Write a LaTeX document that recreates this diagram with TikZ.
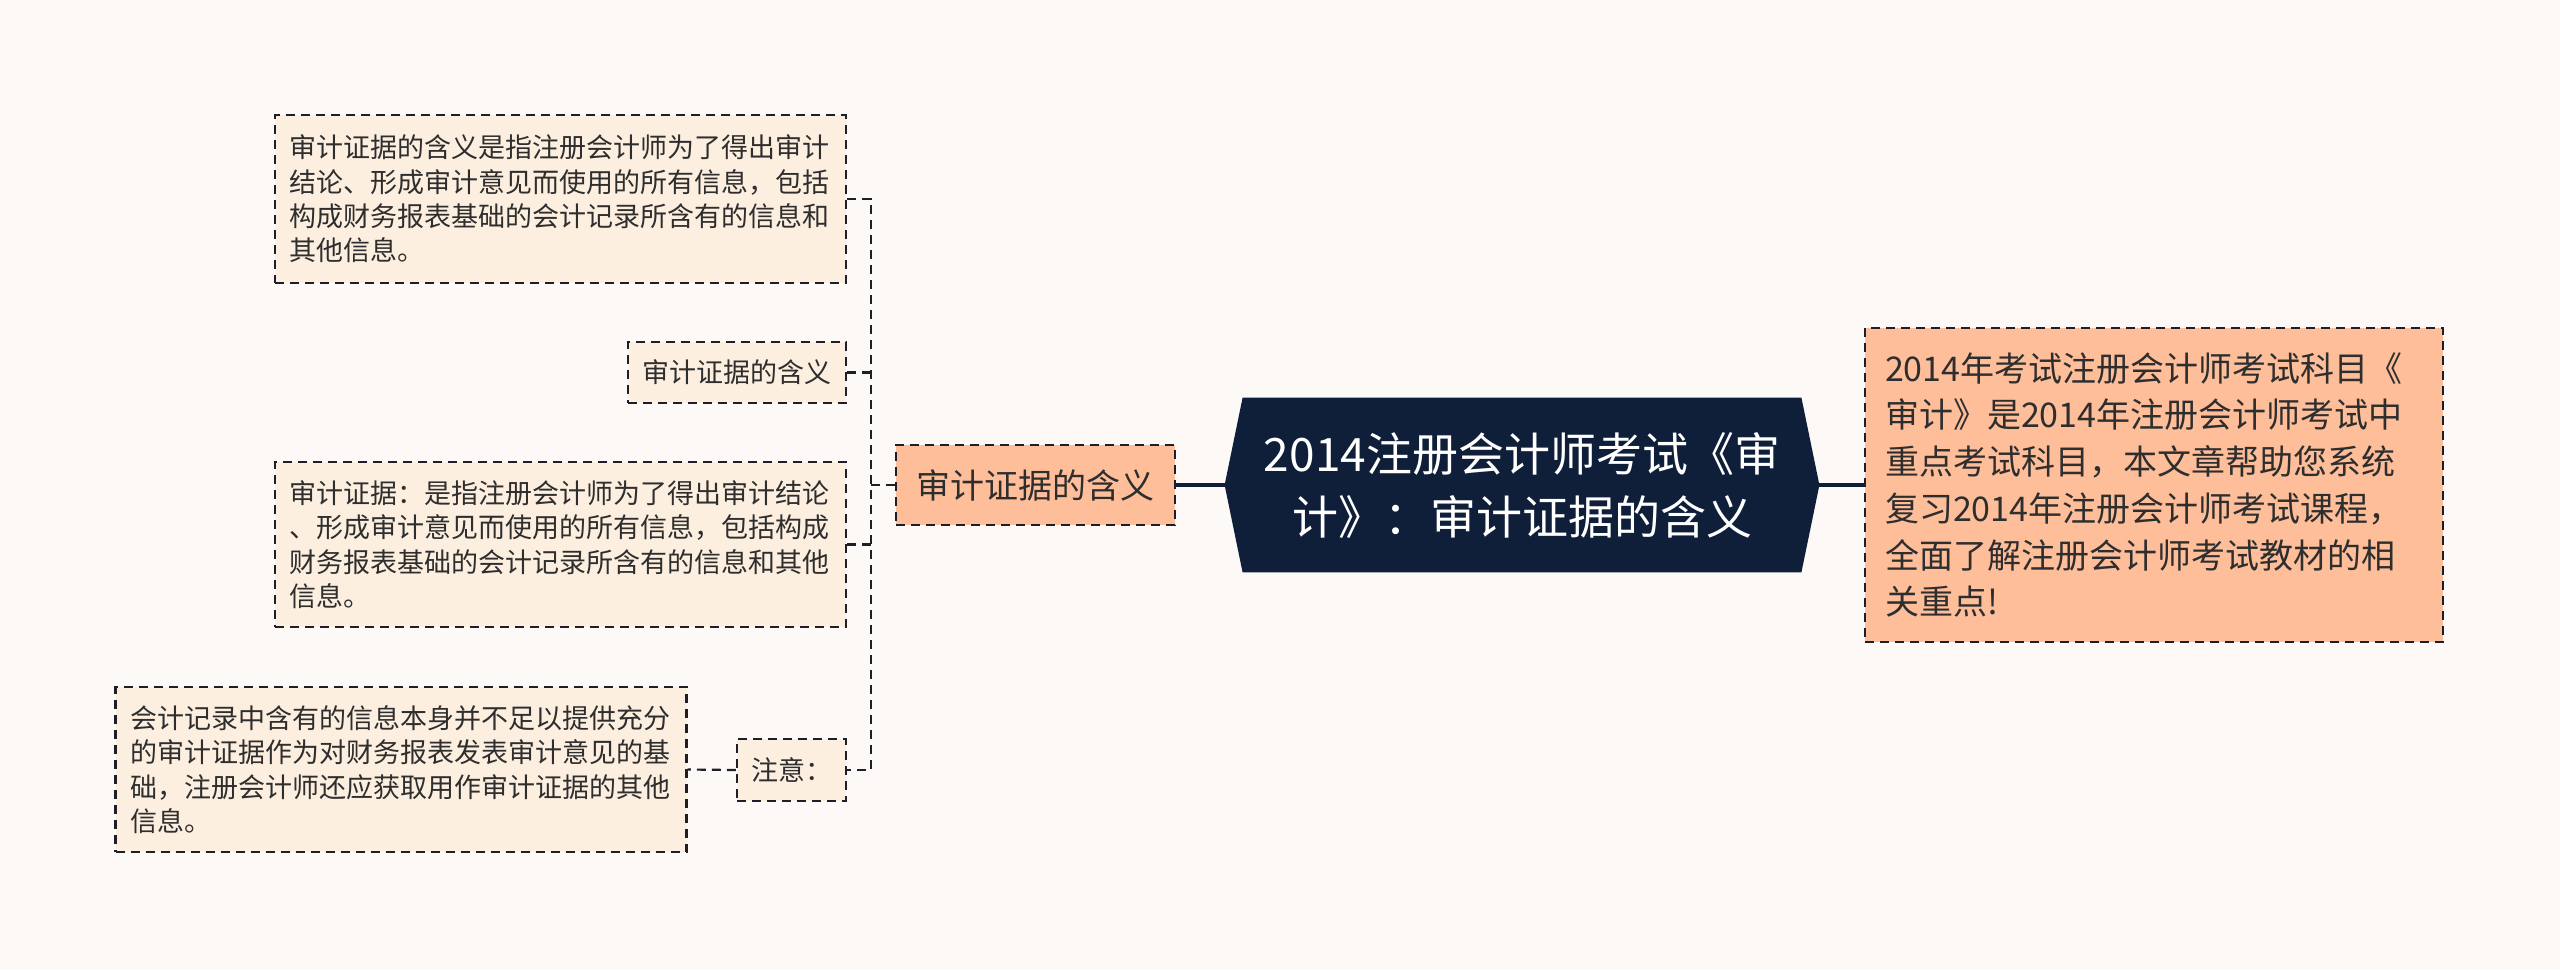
\documentclass[tikz,border=0pt]{standalone}
\usepackage{fontspec}
\setmainfont{Noto Sans CJK SC}
\usetikzlibrary{calc}
\pgfdeclarelayer{bg}
\pgfsetlayers{bg,main}
\definecolor{bgcol}{HTML}{FCF9F7}
\definecolor{leaf}{HTML}{FDEFE0}
\definecolor{salmon}{HTML}{FFBE9A}
\definecolor{navy}{HTML}{0F1F3A}
\definecolor{txt}{HTML}{2E2E2E}
\definecolor{edge}{HTML}{1E1E28}
\begin{document}
\begin{tikzpicture}[x=0.5pt,y=-0.5pt,
  dashbox/.style={draw=edge, line width=1.2pt, dash pattern=on 4.5pt off 3pt, inner sep=0pt, text=txt},
  leafbox/.style={dashbox, fill=leaf, font=\fontsize{13.5pt}{17.2pt}\selectfont},
  bigleaf/.style={leafbox, inner xsep=7.25pt, text width=271pt, align=left},
  smallleaf/.style={leafbox, align=center},
  midbox/.style={dashbox, fill=salmon, font=\fontsize{17pt}{20pt}\selectfont, minimum width=139.5pt, minimum height=40pt},
  rightbox/.style={dashbox, fill=salmon, font=\fontsize{17pt}{23.35pt}\selectfont, inner xsep=10pt, text width=269pt, align=left, minimum height=157pt},
  rootnode/.style={inner sep=0pt, text=white, font=\fontsize{23pt}{31.5pt}\selectfont, align=center, minimum width=297pt, minimum height=87pt},
  conn/.style={draw=edge, line width=1.1pt, dash pattern=on 4.5pt off 3pt},
  mainconn/.style={draw=navy, line width=1.6pt}
]
\useasboundingbox (0,0) rectangle (2560,970);

\node[bigleaf, minimum height=84pt] (b1) at (560.5,199) {审计证据的含义是指注册会计师为了得出审计\\结论、形成审计意见而使用的所有信息，包括\\构成财务报表基础的会计记录所含有的信息和\\其他信息。};
\node[smallleaf, minimum width=109pt, minimum height=30.5pt] (b2) at (737,372.5) {审计证据的含义};
\node[bigleaf, minimum height=82.5pt] (b3) at (560.5,544.5) {审计证据：是指注册会计师为了得出审计结论\\、形成审计意见而使用的所有信息，包括构成\\财务报表基础的会计记录所含有的信息和其他\\信息。};
\node[smallleaf, minimum width=54.5pt, minimum height=31pt] (note) at (791.5,770) {注意：};
\node[bigleaf, minimum height=82.5pt] (b4) at (401,769.5) {会计记录中含有的信息本身并不足以提供充分\\的审计证据作为对财务报表发表审计意见的基\\础，注册会计师还应获取用作审计证据的其他\\信息。};

\node[midbox] (l1) at (1035.5,485) {审计证据的含义};
\node[rootnode] (root) at (1522,485) {2014注册会计师考试《审\\计》：审计证据的含义};
\node[rightbox] (r) at (2154,485) {2014年考试注册会计师考试科目《\\审计》是2014年注册会计师考试中\\重点考试科目，本文章帮助您系统\\复习2014年注册会计师考试课程，\\全面了解注册会计师考试教材的相\\关重点!};

\begin{pgfonlayer}{bg}
\fill[bgcol] (0,0) rectangle (2560,970);
\fill[navy] (root.west) -- ($(root.north west)+(18,0)$) -- ($(root.north east)+(-18,0)$) -- (root.east) -- ($(root.south east)+(-18,0)$) -- ($(root.south west)+(18,0)$) -- cycle;
\end{pgfonlayer}

\coordinate (sp) at (871,485);
\draw[conn] (b1.east) -- (b1.east -| sp) -- (note.east -| sp) -- (note.east);
\draw[conn] (b2.east) -- (b2.east -| sp);
\draw[conn] (b3.east) -- (b3.east -| sp);
\draw[conn] (l1.west) -- (sp);
\draw[conn] (note.west) -- (b4.east);
\draw[mainconn] (l1.east) -- (root.west);
\draw[mainconn] (root.east) -- (r.west);
\end{tikzpicture}
\end{document}
